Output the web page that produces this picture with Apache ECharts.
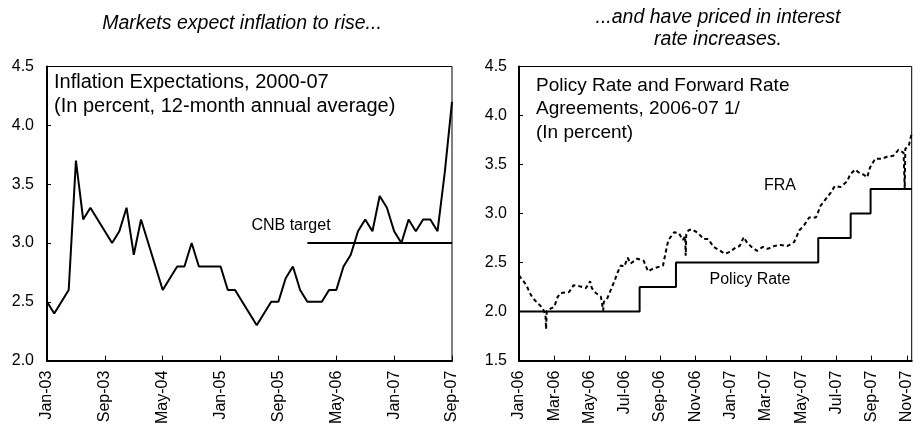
<!DOCTYPE html>
<html>
<head>
<meta charset="utf-8">
<script src="https://cdn.jsdelivr.net/npm/echarts@6/dist/echarts.min.js"></script>
<style>
  html, body { margin: 0; padding: 0; background: #fff; }
  #chart { width: 915px; height: 427px; }
</style>
</head>
<body>
<div id="chart"></div>
<script>
var chart = echarts.init(document.getElementById('chart'));

// left panel: inflation expectations, monthly Jan-03 .. Sep-07
var monthNames = ['Jan', 'Feb', 'Mar', 'Apr', 'May', 'Jun', 'Jul', 'Aug', 'Sep', 'Oct', 'Nov', 'Dec'];
var expectations = [
  2.5, 2.4, 2.5, 2.6, 3.7, 3.2, 3.3, 3.2, 3.1, 3.0, 3.1, 3.3,   // 2003
  2.9, 3.2, 3.0, 2.8, 2.6, 2.7, 2.8, 2.8, 3.0, 2.8, 2.8, 2.8,   // 2004
  2.8, 2.6, 2.6, 2.5, 2.4, 2.3, 2.4, 2.5, 2.5, 2.7, 2.8, 2.6,   // 2005
  2.5, 2.5, 2.5, 2.6, 2.6, 2.8, 2.9, 3.1, 3.2, 3.1, 3.4, 3.3,   // 2006
  3.1, 3.0, 3.2, 3.1, 3.2, 3.2, 3.1, 3.6, 4.2                   // 2007
];
var cnbTargetFrom = 'Jan-06';
var cnbTarget = 3.0;

// right panel: policy rate and FRA, 2006-07
var rightTickLabels = ['Jan-06', 'Mar-06', 'May-06', 'Jul-06', 'Sep-06', 'Nov-06',
  'Jan-07', 'Mar-07', 'May-07', 'Jul-07', 'Sep-07', 'Nov-07'];
var policyDates = ['2006-01-01', '2006-07-27', '2006-09-28', '2007-05-31', '2007-07-26', '2007-08-30', '2007-11-09'];
var policyRates = [2.0, 2.25, 2.5, 2.75, 3.0, 3.25, 3.25];
var fraDates = [
  '2006-01-01', '2006-01-14', '2006-01-20', '2006-01-25', '2006-02-02', '2006-02-10', '2006-02-15', '2006-02-16', '2006-02-17',
  '2006-02-23', '2006-03-01', '2006-03-07', '2006-03-12', '2006-03-27', '2006-04-04', '2006-04-13', '2006-04-25',
  '2006-05-02', '2006-05-05', '2006-05-12', '2006-05-21', '2006-05-24', '2006-05-25', '2006-05-26', '2006-05-31',
  '2006-06-07', '2006-06-14', '2006-06-18', '2006-06-24', '2006-06-30', '2006-07-06', '2006-07-11', '2006-07-23',
  '2006-08-03', '2006-08-11', '2006-08-20', '2006-08-23', '2006-09-06', '2006-09-10', '2006-09-15', '2006-09-25',
  '2006-10-03', '2006-10-10', '2006-10-14', '2006-10-15', '2006-10-16', '2006-10-20', '2006-10-26', '2006-11-06',
  '2006-11-15', '2006-11-23', '2006-12-02', '2006-12-14', '2006-12-22', '2006-12-31', '2007-01-11', '2007-01-17',
  '2007-01-24', '2007-01-29', '2007-02-06', '2007-02-15', '2007-02-24', '2007-03-04', '2007-03-16', '2007-03-27',
  '2007-04-08', '2007-04-19', '2007-04-28', '2007-05-06', '2007-05-15', '2007-05-27', '2007-06-04', '2007-06-13',
  '2007-06-21', '2007-06-28', '2007-07-08', '2007-07-20', '2007-07-25', '2007-08-03', '2007-08-09', '2007-08-17',
  '2007-08-24', '2007-08-29', '2007-09-07', '2007-09-19', '2007-09-27', '2007-10-08', '2007-10-17', '2007-10-26',
  '2007-10-27', '2007-10-28', '2007-10-29', '2007-11-04', '2007-11-09'
];
var fraValues = [
  2.37, 2.27, 2.19, 2.14, 2.09, 2.04, 1.97, 1.82, 2.00,
  2.03, 2.05, 2.15, 2.19, 2.20, 2.27, 2.26, 2.24,
  2.31, 2.24, 2.19, 2.15, 2.14, 2.01, 2.10, 2.12,
  2.22, 2.32, 2.39, 2.47, 2.46, 2.55, 2.49, 2.54,
  2.52, 2.41, 2.44, 2.45, 2.47, 2.59, 2.73, 2.81,
  2.80, 2.73, 2.77, 2.57, 2.79, 2.83, 2.84, 2.80,
  2.74, 2.74, 2.66, 2.62, 2.59, 2.61, 2.66, 2.67,
  2.76, 2.71, 2.66, 2.62, 2.66, 2.64, 2.67, 2.68,
  2.67, 2.71, 2.83, 2.88, 2.96, 2.96, 3.08, 3.15,
  3.21, 3.28, 3.27, 3.33, 3.40, 3.45, 3.42, 3.40,
  3.37, 3.47, 3.56, 3.56, 3.58, 3.59, 3.65, 3.62,
  3.62, 3.25, 3.66, 3.69, 3.82
];

// build month categories for left panel
var leftMonths = [];
for (var i = 0; i < expectations.length; i++) {
  var y = 3 + Math.floor(i / 12);
  leftMonths.push(monthNames[i % 12] + '-' + (y < 10 ? '0' + y : y));
}
var targetLine = leftMonths.map(function (m, i) {
  return i >= leftMonths.indexOf(cnbTargetFrom) ? cnbTarget : null;
});

// date string -> months since Jan 2006 (fractional)
function monthPos(s) {
  var p = s.split('-').map(Number);
  var dim = new Date(p[0], p[1], 0).getDate();
  return (p[0] - 2006) * 12 + (p[1] - 1) + (p[2] - 1) / dim;
}
var fraData = fraDates.map(function (d, i) { return [monthPos(d), fraValues[i]]; });
var policyData = policyDates.map(function (d, i) { return [monthPos(d), policyRates[i]]; });

var FONT = 'Liberation Sans, Arial, sans-serif';
var axisText = { color: '#000', fontFamily: FONT, fontSize: 16 };

option = {
  animation: false,
  backgroundColor: '#fff',
  grid: [
    { left: 47, top: 66.5, width: 405, height: 296.5, show: true, borderColor: '#000', borderWidth: 1 },
    { left: 519, top: 66.5, width: 393, height: 296.5, show: true, borderColor: '#000', borderWidth: 1 }
  ],
  xAxis: [
    {
      gridIndex: 0,
      type: 'category',
      boundaryGap: false,
      data: leftMonths,
      axisLine: { lineStyle: { color: '#000', width: 2 } },
      axisTick: { inside: true, length: 5, interval: 7, lineStyle: { color: '#000' } },
      axisLabel: Object.assign({ rotate: 90, interval: 7, margin: 10 }, axisText),
      splitLine: { show: false }
    },
    {
      gridIndex: 1,
      type: 'value',
      min: 0,
      max: monthPos(policyDates[policyDates.length - 1]),
      interval: 2,
      axisLine: { lineStyle: { color: '#000', width: 2 } },
      axisTick: { inside: true, length: 5, lineStyle: { color: '#000' } },
      axisLabel: Object.assign({
        rotate: 90, margin: 10, showMaxLabel: false,
        formatter: function (v) {
          return (v % 2 === 0) ? (rightTickLabels[v / 2] || '') : '';
        }
      }, axisText),
      splitLine: { show: false }
    }
  ],
  yAxis: [
    {
      gridIndex: 0,
      type: 'value', min: 2, max: 4.5, interval: 0.5,
      axisLine: { show: true, lineStyle: { color: '#000', width: 2 } },
      axisTick: { show: true, inside: true, length: 4, lineStyle: { color: '#000' } },
      axisLabel: Object.assign({ margin: 13, formatter: function (v) { return v.toFixed(1); } }, axisText),
      splitLine: { show: false }
    },
    {
      gridIndex: 1,
      type: 'value', min: 1.5, max: 4.5, interval: 0.5,
      axisLine: { show: true, lineStyle: { color: '#000', width: 2 } },
      axisTick: { show: true, inside: true, length: 4, lineStyle: { color: '#000' } },
      axisLabel: Object.assign({ margin: 12, formatter: function (v) { return v.toFixed(1); } }, axisText),
      splitLine: { show: false }
    }
  ],
  series: [
    {
      name: 'Inflation expectations',
      type: 'line', xAxisIndex: 0, yAxisIndex: 0,
      data: expectations,
      symbol: 'none',
      lineStyle: { color: '#000', width: 2 }
    },
    {
      name: 'CNB target',
      type: 'line', xAxisIndex: 0, yAxisIndex: 0,
      data: targetLine,
      symbol: 'none',
      lineStyle: { color: '#000', width: 2 }
    },
    {
      name: 'Policy Rate',
      type: 'line', xAxisIndex: 1, yAxisIndex: 1,
      data: policyData,
      step: 'end',
      symbol: 'none',
      lineStyle: { color: '#000', width: 2 }
    },
    {
      name: 'FRA',
      type: 'line', xAxisIndex: 1, yAxisIndex: 1,
      data: fraData,
      symbol: 'none',
      lineStyle: { color: '#000', width: 2, type: [4, 3] }
    }
  ],
  graphic: [
    { type: 'text', x: 242, y: 24, style: { text: 'Markets expect inflation to rise...', fontFamily: FONT, fontSize: 19.5, fontStyle: 'italic', fill: '#000', align: 'center', verticalAlign: 'middle' } },
    { type: 'text', x: 718, y: 6, style: { text: '...and have priced in interest\nrate increases.', fontFamily: FONT, fontSize: 19.5, fontStyle: 'italic', fill: '#000', align: 'center', verticalAlign: 'top', lineHeight: 22.5 } },
    { type: 'text', x: 54, y: 70.5, style: { text: 'Inflation Expectations, 2000-07\n(In percent, 12-month annual average)', fontFamily: FONT, fontSize: 20, fill: '#000', align: 'left', verticalAlign: 'top', lineHeight: 24 } },
    { type: 'text', x: 536, y: 74, style: { text: 'Policy Rate and Forward Rate\nAgreements, 2006-07 1/\n(In percent)', fontFamily: FONT, fontSize: 19, fill: '#000', align: 'left', verticalAlign: 'top', lineHeight: 23.5 } },
    { type: 'text', x: 291, y: 226, style: { text: 'CNB target', fontFamily: FONT, fontSize: 16, fill: '#000', align: 'center', verticalAlign: 'middle' } },
    { type: 'text', x: 780, y: 186, style: { text: 'FRA', fontFamily: FONT, fontSize: 16, fill: '#000', align: 'center', verticalAlign: 'middle' } },
    { type: 'text', x: 750, y: 279.5, style: { text: 'Policy Rate', fontFamily: FONT, fontSize: 16, fill: '#000', align: 'center', verticalAlign: 'middle' } }
  ]
};

chart.setOption(option);
</script>
</body>
</html>
